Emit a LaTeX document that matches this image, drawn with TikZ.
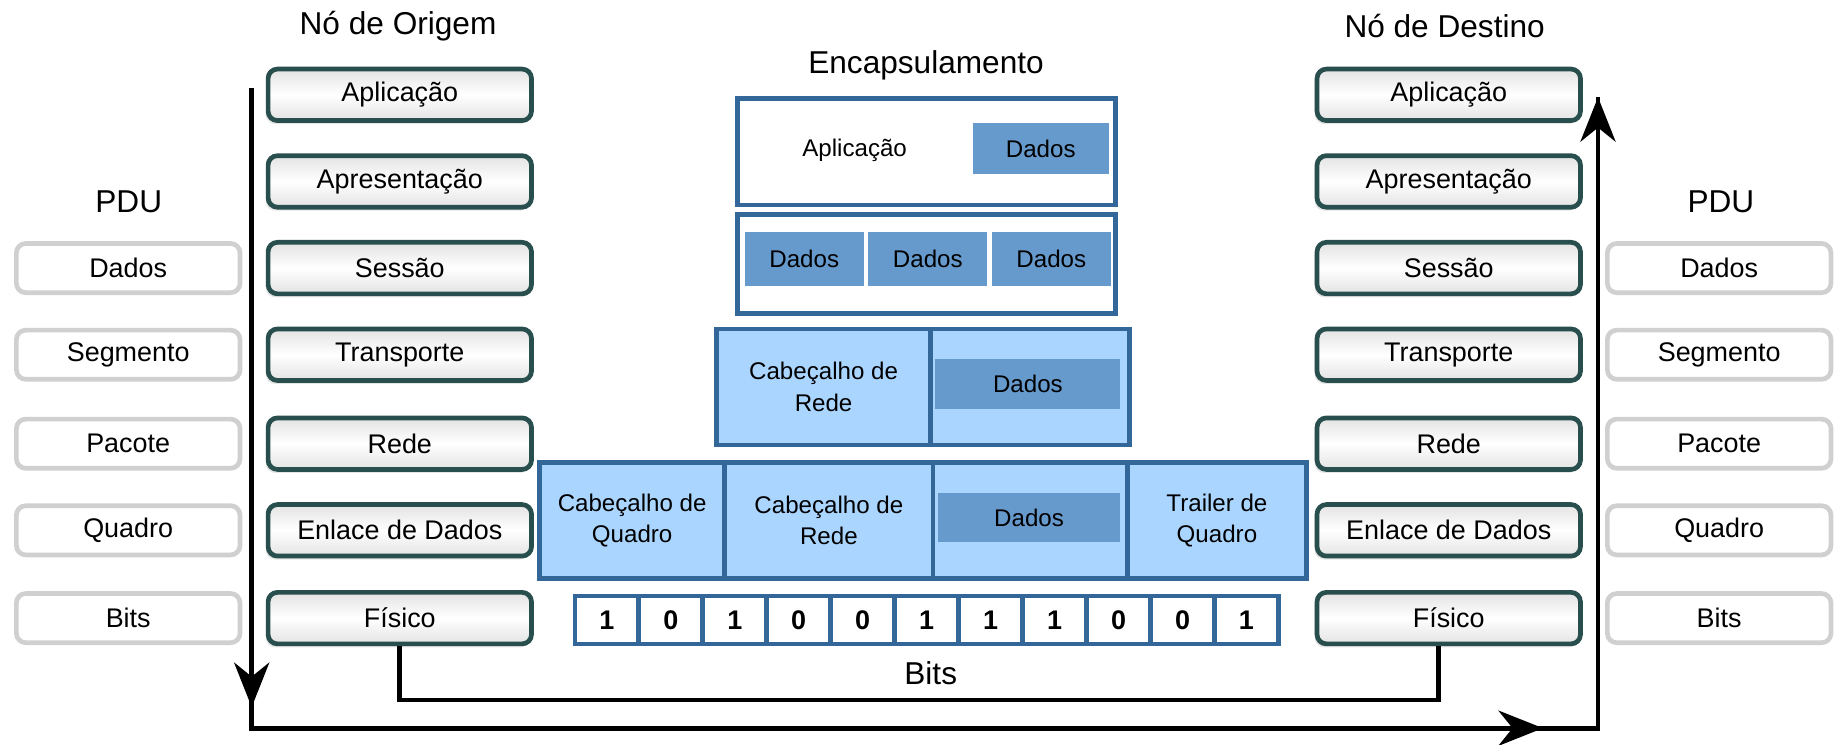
\documentclass[tikz,border=0pt]{standalone}
\usepackage{fontspec}
\setmainfont{Liberation Sans}
\usetikzlibrary{arrows.meta,shadows,calc}
\definecolor{osiborder}{RGB}{40,78,78}
\definecolor{pduborder}{RGB}{208,208,208}
\definecolor{encblue}{RGB}{51,102,153}
\definecolor{lightblue}{RGB}{170,213,255}
\definecolor{datablue}{RGB}{102,153,204}
\begin{document}
\begin{tikzpicture}[x=0.5pt,y=-0.5pt,
  title/.style={font=\fontsize{13.5}{16}\selectfont, inner sep=0pt},
  osi/.style={draw=osiborder, line width=2pt, rounded corners=4pt,
    minimum width=112.5pt, minimum height=22pt, inner sep=0pt,
    top color=gray!22, bottom color=gray!22, middle color=white,
    font=\fontsize{11.5}{13}\selectfont,
    drop shadow={shadow xshift=-1pt, shadow yshift=-1.5pt, fill=gray!40, opacity=0.5}},
  pdu/.style={draw=pduborder, line width=2pt, rounded corners=4pt,
    minimum width=95.5pt, minimum height=21pt, inner sep=0pt, fill=white,
    font=\fontsize{11.5}{13}\selectfont},
  encbox/.style={draw=encblue, line width=2pt, fill=white, inner sep=0pt},
  cell/.style={draw=encblue, line width=2pt, fill=lightblue, inner sep=0pt,
    minimum height=49.5pt, align=center, font=\fontsize{10.3}{13.5}\selectfont},
  datab/.style={fill=datablue, inner sep=0pt, minimum height=22pt,
    font=\fontsize{10.3}{12}\selectfont},
  bitcell/.style={draw=encblue, line width=2pt, fill=white, inner sep=0pt,
    minimum width=27.3pt, minimum height=20.5pt,
    font=\fontsize{11.5}{13}\selectfont\bfseries},
  flow/.style={line width=2pt, black},
  tip/.style={-{Stealth[length=19pt,width=15pt,inset=6pt]}, line width=2pt}
]
\useasboundingbox (0,0) rectangle (1570,636);

% titles
\node[title] (torig) at (340,22) {Nó de Origem};
\node[title] (tdest) at (1234,22) {Nó de Destino};
\node[title] (tpdul) at (110,172) {PDU};
\node[title] (tpdur) at (1470,172) {PDU};
\node[title] (tenc) at (791,56) {Encapsulamento};
\node[title] (tbits) at (795,575) {Bits};

% OSI stacks
\foreach \yy/\nn/\tt in {81/app/Aplicação, 155/apr/Apresentação, 229/ses/Sessão,
  303/tra/Transporte, 379/red/Rede, 453/enl/Enlace de Dados, 528/fis/Físico}{
  \node[osi] (l\nn) at (341.5,\yy) {\tt};
  \node[osi] (r\nn) at (1237.5,\yy) {\tt};
}

% PDU columns
\foreach \yy/\nn/\tt in {229/dad/Dados, 303/seg/Segmento, 379/pac/Pacote,
  453/qua/Quadro, 528/bit/Bits}{
  \node[pdu] (pl\nn) at (109.5,\yy) {\tt};
  \node[pdu] (pr\nn) at (1468.5,\yy) {\tt};
}

% Encapsulation box 1
\node[encbox, minimum width=161.5pt, minimum height=45.5pt] (e1) at (791.5,129.5) {};
\node[font=\fontsize{10.3}{12}\selectfont, inner sep=0pt] (e1t) at (730,128) {Aplicação};
\node[datab, minimum width=58pt] (e1d) at (889,127) {Dados};

% Encapsulation box 2
\node[encbox, minimum width=161.5pt, minimum height=42.5pt] (e2) at (791.5,225.5) {};
\node[datab, minimum width=51pt, minimum height=23pt] (e2a) at (687,221) {Dados};
\node[datab, minimum width=51pt, minimum height=23pt] (e2b) at (792.5,221) {Dados};
\node[datab, minimum width=51pt, minimum height=23pt] (e2c) at (898,221) {Dados};

% Encapsulation box 3
\node[cell, minimum width=91.5pt] (e3a) at (703.5,330.5) {Cabeçalho de\\Rede};
\node[cell, minimum width=85pt] (e3b) at (880,330.5) {};
\node[datab, minimum width=79pt, minimum height=21pt] (e3d) at (878,328) {Dados};

% Encapsulation box 4
\node[cell, minimum width=79pt] (e4a) at (540,444.5) {Cabeçalho de\\Quadro};
\node[cell, minimum width=89pt] (e4b) at (708,444.5) {Cabeçalho de\\Rede};
\node[cell, minimum width=83pt] (e4c) at (880,444.5) {};
\node[cell, minimum width=76.5pt] (e4e) at (1039.5,444.5) {Trailer de\\Quadro};
\node[datab, minimum width=78pt, minimum height=21pt] (e4d) at (879,442) {Dados};

% Bits row
\foreach \b [count=\i from 0] in {1,0,1,0,0,1,1,1,0,0,1}{
  \node[bitcell] (bit\i) at ({491+54.64*(\i+0.5)},529.5) {\b};
}

% inner physical link
\coordinate (cbot) at (800,598);
\draw[flow] (lfis.south) |- (cbot) -| ([xshift=-4.5pt]rfis.south);

% outer flow
\coordinate (ostart) at (215,75);
\coordinate (obl) at (215,622);
\coordinate (obr) at (1365,622);
\coordinate (otop) at (1365,83);
\coordinate (adown1) at (215,560);
\coordinate (adown2) at (215,604);
\coordinate (aright1) at (1270,622);
\coordinate (aright2) at (1318,622);
\draw[flow] (ostart) -- (obl) -- (obr) -- (otop);
\draw[tip] (obr) -- (otop);
\draw[tip] (adown1) -- (adown2);
\draw[tip] (aright1) -- (aright2);
\end{tikzpicture}
\end{document}
